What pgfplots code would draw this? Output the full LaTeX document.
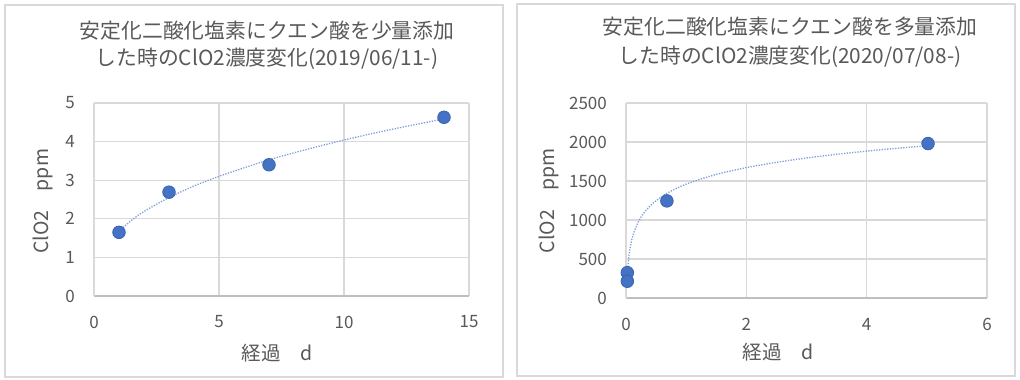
\documentclass[border=0pt]{standalone}
\usepackage{pgfplots}
\pgfplotsset{compat=1.18}
\usepackage{fontspec}
\setmainfont{Noto Sans CJK JP}
\definecolor{txt}{HTML}{595959}
\definecolor{grd}{HTML}{D9D9D9}
\definecolor{axl}{HTML}{BFBFBF}
\definecolor{mk}{HTML}{4472C4}
\definecolor{mkd}{HTML}{3A64AD}
\definecolor{tr}{HTML}{7FA1D8}
\pgfplotsset{exc/.style={
  scale only axis, clip=false,
  axis lines*=left,
  x axis line style={draw=axl, line width=1.2pt, -},
  y axis line style={draw=grd, line width=1.2pt, -},
  grid=major, major grid style={draw=grd, line width=1.2pt},
  tick style={draw=none},
  ticklabel style={font=\fontsize{17}{17}\selectfont, text=txt},
  /pgf/number format/assume math mode=true,
  /pgf/number format/1000 sep={},
  xticklabel style={anchor=center, yshift=-26pt, inner sep=0pt},
  yticklabel style={anchor=east, xshift=-19pt, inner sep=0pt},
  label style={font=\fontsize{19.5}{19.5}\selectfont, text=txt},
  xlabel style={anchor=center},
  ylabel style={anchor=center},
}}
\begin{document}
\begin{tikzpicture}
\useasboundingbox (0,0) rectangle (1020pt,380pt);
\fill[white] (0,0) rectangle (1020pt,380pt);
\draw[grd, line width=1.2pt] (5pt,3pt) rectangle (503pt,375pt);
\draw[grd, line width=1.2pt] (517pt,4pt) rectangle (1015pt,376pt);
\node[text=txt, align=center, font=\fontsize{20.8}{27.5}\selectfont] at (267pt,334.5pt) {安定化二酸化塩素にクエン酸を少量添加\\した時のClO2濃度変化(2019/06/11-)};
\node[text=txt, align=center, font=\fontsize{20.8}{28.5}\selectfont] at (790pt,337.5pt) {安定化二酸化塩素にクエン酸を多量添加\\した時のClO2濃度変化(2020/07/08-)};

\begin{axis}[exc, at={(94pt,84pt)}, anchor=south west,
  width=375pt, height=193pt,
  xmin=0, xmax=15, ymin=0, ymax=5,
  xtick={0,5,10,15}, ytick={0,1,2,3,4,5},
  xlabel={経過　d}, ylabel={ClO2　ppm},
  xlabel style={at={(axis description cs:0.488,-0.2953)}},
  ylabel style={at={(axis description cs:-0.136,0.49)}},
]
\addplot[tr, line width=1.3pt, dash pattern=on 1.3pt off 1.4pt, smooth] coordinates {
(1,1.68) (1.5,1.96) (2,2.19) (3,2.55) (4,2.85) (5,3.10) (6,3.32) (7,3.53) (8,3.71) (9,3.88) (10,4.04) (11,4.19) (12,4.33) (13,4.46) (14,4.59)};
\addplot[only marks, mark=*, mark size=6.3pt, mark options={fill=mk, draw=mkd, line width=0.8pt}] coordinates {
(1,1.65) (3,2.69) (7,3.40) (14,4.63)};
\end{axis}

\begin{axis}[exc, at={(626pt,82pt)}, anchor=south west,
  width=361pt, height=195pt,
  xmin=0, xmax=6, ymin=0, ymax=2500,
  xtick={0,2,4,6}, ytick={0,500,1000,1500,2000,2500},
  xlabel={経過　d}, ylabel={ClO2　ppm},
  xlabel style={at={(axis description cs:0.421,-0.277)}},
  ylabel style={at={(axis description cs:-0.2133,0.5)}},
]
\addplot[tr, line width=1.3pt, dash pattern=on 1.3pt off 1.4pt, smooth] coordinates {
(0.022,296) (0.03,390) (0.05,546) (0.08,690) (0.12,813) (0.2,969) (0.3,1093) (0.45,1216) (0.68,1342) (1,1460) (1.5,1584) (2,1671) (2.5,1739) (3,1795) (3.5,1842) (4,1883) (4.5,1919) (5.02,1952)};
\addplot[only marks, mark=*, mark size=6.3pt, mark options={fill=mk, draw=mkd, line width=0.8pt}] coordinates {
(0.022,325) (0.022,215) (0.68,1245) (5.02,1980)};
\end{axis}
\end{tikzpicture}
\end{document}
